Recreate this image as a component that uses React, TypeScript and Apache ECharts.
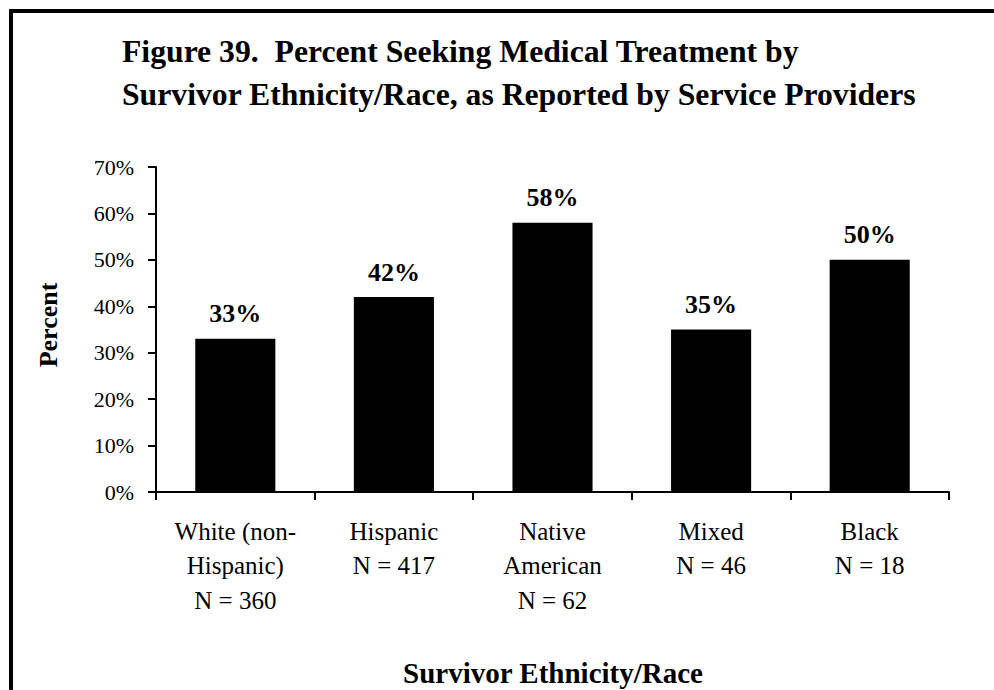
import React, { useEffect, useRef } from "react";
import * as echarts from "echarts";

const categories = [
  "White (non-\nHispanic)\nN = 360",
  "Hispanic\nN = 417",
  "Native\nAmerican\nN = 62",
  "Mixed\nN = 46",
  "Black\nN = 18",
];
const percentValues = [33, 42, 58, 35, 50];
const titleLines = [
  "Figure 39.  Percent Seeking Medical Treatment by",
  "Survivor Ethnicity/Race, as Reported by Service Providers",
];
const xAxisTitle = "Survivor Ethnicity/Race";
const yAxisTitle = "Percent";

const FONT = "'Liberation Serif', 'Times New Roman', serif";

export default function App() {
  const ref = useRef<HTMLDivElement>(null);
  useEffect(() => {
    if (!ref.current) return;
    const chart = echarts.init(ref.current, undefined, { renderer: "svg" });
    chart.setOption({
      animation: false,
      backgroundColor: "#ffffff",
      textStyle: { fontFamily: FONT },
      grid: { left: 156, right: 45, top: 167, bottom: 198, containLabel: false },
      xAxis: {
        type: "category",
        data: categories,
        axisLine: { show: true, lineStyle: { color: "#000", width: 2 } },
        axisTick: { show: true, length: 8, lineStyle: { color: "#000", width: 2 } },
        axisLabel: {
          color: "#000",
          fontFamily: FONT,
          fontSize: 25,
          lineHeight: 34.5,
          margin: 22,
          interval: 0,
        },
      },
      yAxis: {
        type: "value",
        min: 0,
        max: 70,
        interval: 10,
        splitLine: { show: false },
        axisLine: { show: true, lineStyle: { color: "#000", width: 2 } },
        axisTick: { show: true, length: 8, lineStyle: { color: "#000", width: 2 } },
        axisLabel: {
          color: "#000",
          fontFamily: FONT,
          fontSize: 22,
          margin: 22,
          formatter: (v: number) => v + "%",
        },
      },
      series: [
        {
          type: "bar",
          data: percentValues,
          barCategoryGap: "49.5%",
          itemStyle: { color: "#000" },
          label: {
            show: true,
            position: "top",
            distance: 12,
            color: "#000",
            fontFamily: FONT,
            fontWeight: "bold",
            fontSize: 26,
            formatter: (p: any) => p.value + "%",
          },
        },
      ],
      graphic: [
        {
          type: "line",
          shape: { x1: 9, y1: 11, x2: 994, y2: 11 },
          style: { stroke: "#000", lineWidth: 4 },
        },
        {
          type: "line",
          shape: { x1: 11, y1: 9, x2: 11, y2: 690 },
          style: { stroke: "#000", lineWidth: 4 },
        },
        {
          type: "text",
          x: 122,
          y: 30,
          style: {
            text: titleLines.join("\n"),
            fontFamily: FONT,
            fontWeight: "bold",
            fontSize: 31.7,
            lineHeight: 43,
            fill: "#000",
            textAlign: "left",
            textVerticalAlign: "top",
          },
        },
        {
          type: "text",
          x: 553,
          y: 673,
          style: {
            text: xAxisTitle,
            fontFamily: FONT,
            fontWeight: "bold",
            fontSize: 29,
            fill: "#000",
            textAlign: "center",
            textVerticalAlign: "middle",
          },
        },
        {
          type: "text",
          x: 48,
          y: 325,
          rotation: Math.PI / 2,
          style: {
            text: yAxisTitle,
            fontFamily: FONT,
            fontWeight: "bold",
            fontSize: 26,
            fill: "#000",
            textAlign: "center",
            textVerticalAlign: "middle",
          },
        },
      ],
    });
    return () => chart.dispose();
  }, []);
  return (
    <div
      ref={ref}
      style={{ position: "fixed", left: 0, top: 0, width: 994, height: 690 }}
    />
  );
}
